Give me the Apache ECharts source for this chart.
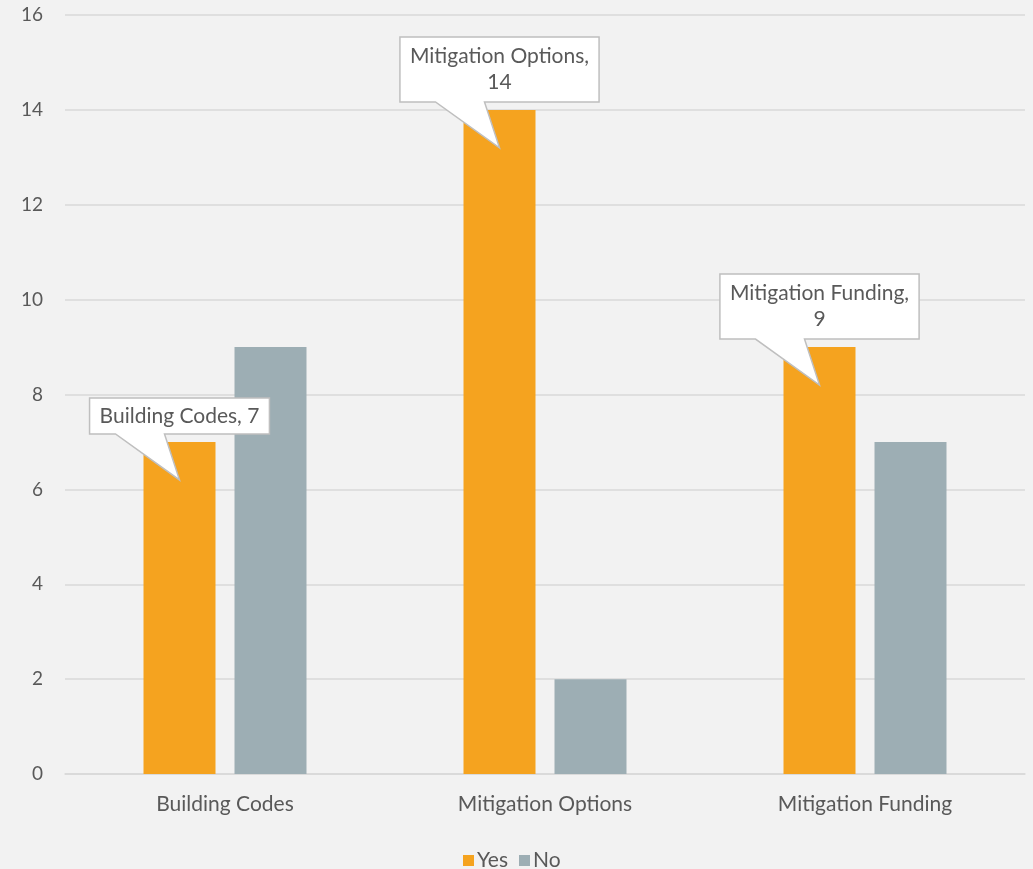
<!DOCTYPE html>
<html>
<head>
<meta charset="utf-8">
<script src="https://cdn.jsdelivr.net/npm/echarts@6/dist/echarts.min.js"></script>
<style>
  html, body { margin: 0; padding: 0; background: #f2f2f2; }
  #main { width: 1033px; height: 869px; }
</style>
</head>
<body>
<div id="main"></div>
<script>
// data
var categories = ['Building Codes', 'Mitigation Options', 'Mitigation Funding'];
var yesValues = [7, 14, 9];
var noValues = [9, 2, 7];
var calloutText = ['Building Codes, 7', 'Mitigation Options,\n14', 'Mitigation Funding,\n9'];
var yTicks = [0, 2, 4, 6, 8, 10, 12, 14, 16];

var FONT = 'Lato, "Noto Sans", sans-serif';
var TEXT_COLOR = '#595959';
var BAR_W = 72, BAR_GAP = 19;
var CALLOUT_FONT = '21px ' + FONT;

var measureCtx = document.createElement('canvas').getContext('2d');
measureCtx.font = CALLOUT_FONT;
function textWidth(s) {
  var w = 0;
  s.split('\n').forEach(function (line) {
    w = Math.max(w, measureCtx.measureText(line).width);
  });
  return w;
}

var calloutData = categories.map(function (c, i) {
  return [i, yesValues[i], calloutText[i]];
});

function renderCallout(params, api) {
  var idx = params.dataIndex;
  var p = api.coord([api.value(0), api.value(1)]);
  var cx = p[0] - (BAR_W + BAR_GAP) / 2;
  var top = p[1];
  var text = calloutText[idx];
  var lines = text.split('\n').length;
  var lh = 26;
  var w = textWidth(text) + 20;
  var h = lines * lh + 10 + (lines - 1) * 3;
  var bottom = top - 8;
  var left = cx - w / 2, right = cx + w / 2, boxTop = bottom - h;
  var tipX = cx, tipY = top + 38;
  var pts = [
    [left, boxTop], [right, boxTop], [right, bottom],
    [tipX - 15, bottom], [tipX, tipY], [tipX - 64, bottom],
    [left, bottom]
  ];
  return {
    type: 'group',
    children: [{
      type: 'polygon',
      shape: { points: pts },
      style: { fill: '#ffffff', stroke: '#bfbfbf', lineWidth: 1.5 }
    }, {
      type: 'text',
      style: {
        text: text,
        x: cx,
        y: boxTop + 5 + (lines > 1 ? 1 : 0),
        align: 'center',
        verticalAlign: 'top',
        font: CALLOUT_FONT,
        lineHeight: lh,
        fill: TEXT_COLOR
      }
    }]
  };
}

var chart = echarts.init(document.getElementById('main'));
chart.setOption({
  backgroundColor: '#f2f2f2',
  animation: false,
  textStyle: { fontFamily: FONT },
  grid: { left: 65, right: 8, top: 15, bottom: 95, containLabel: false },
  legend: {
    data: ['Yes', 'No'],
    top: 845,
    left: 458,
    icon: 'rect',
    itemWidth: 11,
    itemHeight: 11,
    itemGap: 11,
    textStyle: { fontSize: 21, color: TEXT_COLOR, padding: [0, 0, 0, -2] }
  },
  xAxis: {
    type: 'category',
    data: categories,
    axisTick: { show: false },
    axisLine: { lineStyle: { color: '#d9d9d9', width: 1.5 } },
    axisLabel: { fontSize: 21, color: TEXT_COLOR, margin: 20 }
  },
  yAxis: {
    type: 'value',
    min: yTicks[0],
    max: yTicks[yTicks.length - 1],
    interval: 2,
    axisLine: { show: false },
    axisTick: { show: false },
    axisLabel: { fontSize: 19, color: TEXT_COLOR, margin: 22 },
    splitLine: { lineStyle: { color: '#d9d9d9', width: 1.5 } }
  },
  series: [{
    name: 'Yes',
    type: 'bar',
    data: yesValues,
    barWidth: BAR_W,
    barGap: (BAR_GAP / BAR_W * 100) + '%',
    itemStyle: { color: '#f5a31f' }
  }, {
    name: 'No',
    type: 'bar',
    data: noValues,
    barWidth: BAR_W,
    itemStyle: { color: '#9daeb4' }
  }, {
    name: 'callouts',
    type: 'custom',
    data: calloutData,
    renderItem: renderCallout,
    z: 10,
    silent: true,
    clip: false
  }]
});
</script>
</body>
</html>
